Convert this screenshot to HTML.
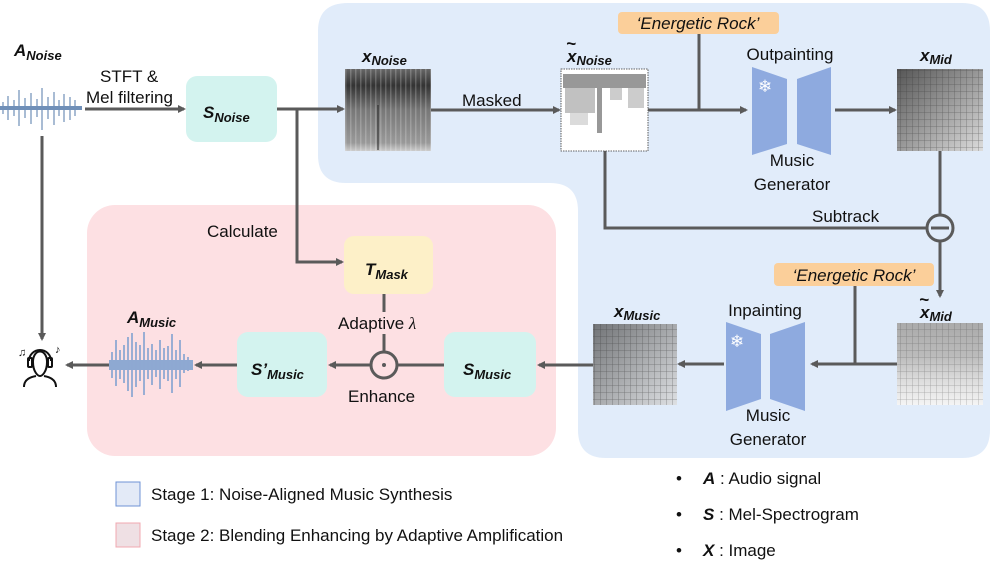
<!DOCTYPE html>
<html><head><meta charset="utf-8">
<style>
html,body{margin:0;padding:0;background:#fff;}
svg{display:block;font-family:"Liberation Sans",sans-serif;}
.t{font-size:17px;fill:#111;}
.b{font-weight:bold;font-style:italic;}
.ln{stroke:#5a5a5a;stroke-width:3;fill:none;}
</style></head><body>
<svg width="996" height="565" viewBox="0 0 996 565" xmlns="http://www.w3.org/2000/svg">
<defs>
<marker id="ar" markerWidth="8" markerHeight="8" refX="6" refY="4" orient="auto" markerUnits="userSpaceOnUse">
<path d="M0,0 L8,4 L0,8 z" fill="#5a5a5a"/></marker>
<linearGradient id="gN" x1="0" y1="0" x2="0" y2="1">
<stop offset="0" stop-color="#666"/><stop offset="0.2" stop-color="#333"/><stop offset="0.5" stop-color="#777"/><stop offset="0.9" stop-color="#999"/><stop offset="1" stop-color="#ccc"/></linearGradient>
<linearGradient id="gM" x1="0" y1="0" x2="1" y2="1">
<stop offset="0" stop-color="#555"/><stop offset="0.5" stop-color="#999"/><stop offset="1" stop-color="#ddd"/></linearGradient>
<linearGradient id="gT" x1="0" y1="0" x2="0" y2="1">
<stop offset="0" stop-color="#fff"/><stop offset="0.08" stop-color="#555"/><stop offset="0.25" stop-color="#888"/><stop offset="0.5" stop-color="#eee"/><stop offset="1" stop-color="#fff"/></linearGradient>
<linearGradient id="gTM" x1="0" y1="0" x2="0" y2="1">
<stop offset="0" stop-color="#aaa"/><stop offset="0.4" stop-color="#bbb"/><stop offset="0.7" stop-color="#ddd"/><stop offset="1" stop-color="#f4f4f4"/></linearGradient>
<pattern id="grid" width="6" height="7" patternUnits="userSpaceOnUse"><path d="M0 0V7M0 0H6" stroke="#333" stroke-width="0.8" opacity="0.55"/></pattern>
<pattern id="vl" width="5" height="80" patternUnits="userSpaceOnUse"><rect width="1.5" height="80" fill="#fff" opacity="0.2"/></pattern>
</defs>

<!-- Stage 1 blue L region -->
<path d="M348,3 H962 Q990,3 990,31 V430 Q990,458 962,458 H606 Q578,458 578,430 V211 Q578,183 550,183 H346 Q318,183 318,155 V31 Q318,3 348,3 Z" fill="#e1ecfa"/>
<!-- Stage 2 pink -->
<rect x="87" y="205" width="469" height="251" rx="28" fill="#fde0e3"/>

<!-- A_Noise -->
<text x="14" y="56" class="t b" font-size="21">A<tspan font-size="13" dy="4">Noise</tspan></text>
<g stroke="#6f8fb8" stroke-width="1.2">
<line x1="0" y1="108" x2="82" y2="108" stroke-width="4"/>
<line x1="8" y1="96" x2="8" y2="120"/><line x1="14" y1="100" x2="14" y2="116"/><line x1="19" y1="90" x2="19" y2="126"/>
<line x1="25" y1="98" x2="25" y2="118"/><line x1="31" y1="93" x2="31" y2="124"/><line x1="37" y1="99" x2="37" y2="117"/>
<line x1="42" y1="88" x2="42" y2="130"/><line x1="48" y1="97" x2="48" y2="119"/><line x1="54" y1="92" x2="54" y2="125"/>
<line x1="59" y1="100" x2="59" y2="116"/><line x1="64" y1="94" x2="64" y2="122"/><line x1="70" y1="97" x2="70" y2="120"/><line x1="75" y1="100" x2="75" y2="116"/>
<line x1="3" y1="102" x2="3" y2="114"/>
</g>
<text x="100" y="82" class="t" font-size="16">STFT &amp;</text>
<text x="86" y="103" class="t" font-size="16">Mel filtering</text>
<line x1="85" y1="109" x2="184" y2="109" class="ln" marker-end="url(#ar)"/>

<!-- S_Noise -->
<rect x="186" y="76" width="91" height="66" rx="11" fill="#d3f3ef"/>
<text x="203" y="118" class="t b" font-size="22">S<tspan font-size="13" dy="4">Noise</tspan></text>

<line x1="277" y1="109" x2="343" y2="109" class="ln" marker-end="url(#ar)"/>
<path d="M297,109 V262 H342" class="ln" marker-end="url(#ar)"/>
<line x1="42" y1="136" x2="42" y2="339" class="ln" marker-end="url(#ar)"/>
<text x="207" y="237" class="t">Calculate</text>

<!-- x_Noise -->
<text x="362" y="62" class="t b" font-size="20">x<tspan font-size="13" dy="3">Noise</tspan></text>
<rect x="345" y="69" width="86" height="82" fill="url(#gN)"/>
<rect x="345" y="69" width="86" height="82" fill="url(#vl)"/>
<line x1="378" y1="105" x2="378" y2="150" stroke="#222" stroke-width="1"/>
<line x1="431" y1="110" x2="559" y2="110" class="ln" marker-end="url(#ar)"/>
<text x="462" y="106" class="t">Masked</text>

<!-- x~_Noise -->
<text x="567" y="62" class="t b" font-size="20">x<tspan font-size="13" dy="3">Noise</tspan></text>
<text x="566" y="49" class="t b" font-size="16">~</text>
<rect x="561" y="69" width="87" height="82" fill="#fff" stroke="#333" stroke-width="0.8" stroke-dasharray="1.5 1"/>
<g fill="#444" opacity="0.55"><rect x="563" y="74" width="83" height="14"/><rect x="565" y="88" width="30" height="25" opacity="0.6"/><rect x="597" y="88" width="5" height="45"/><rect x="610" y="88" width="12" height="12" opacity="0.5"/><rect x="628" y="88" width="16" height="20" opacity="0.5"/><rect x="570" y="113" width="18" height="12" opacity="0.35"/></g>
<path d="M605,151 V228 H927" class="ln"/>
<line x1="648" y1="110" x2="746" y2="110" class="ln" marker-end="url(#ar)"/>
<line x1="699" y1="33" x2="699" y2="110" class="ln"/>
<rect x="618" y="12" width="161" height="22" rx="4" fill="#fbcf9a"/>
<text x="698" y="29" class="t" font-style="italic" text-anchor="middle">‘Energetic Rock’</text>

<!-- Outpainting generator -->
<text x="790" y="60" class="t" text-anchor="middle">Outpainting</text>
<polygon points="752,67 787,79 787,144 752,155" fill="#8eaadf"/>
<polygon points="797,79 831,67 831,155 797,144" fill="#8eaadf"/>
<text x="765" y="92" font-size="17" fill="#fff" text-anchor="middle">❄</text>
<text x="792" y="166" class="t" text-anchor="middle">Music</text>
<text x="792" y="190" class="t" text-anchor="middle">Generator</text>
<line x1="835" y1="110" x2="895" y2="110" class="ln" marker-end="url(#ar)"/>

<!-- x_Mid -->
<text x="920" y="61" class="t b" font-size="20">x<tspan font-size="13" dy="3">Mid</tspan></text>
<rect x="897" y="69" width="86" height="82" fill="url(#gM)"/>
<rect x="897" y="69" width="86" height="82" fill="url(#grid)"/>
<line x1="940" y1="151" x2="940" y2="215" class="ln"/>
<circle cx="940" cy="228" r="13" fill="#e1ecfa" stroke="#5a5a5a" stroke-width="3"/>
<line x1="931" y1="228" x2="949" y2="228" stroke="#5a5a5a" stroke-width="3"/>
<text x="812" y="222" class="t">Subtrack</text>
<line x1="940" y1="241" x2="940" y2="296" class="ln" marker-end="url(#ar)"/>

<!-- x~_Mid -->
<text x="920" y="318" class="t b" font-size="20">x<tspan font-size="13" dy="3">Mid</tspan></text>
<text x="919" y="305" class="t b" font-size="16">~</text>
<rect x="897" y="323" width="86" height="82" fill="url(#gTM)"/>
<rect x="897" y="323" width="86" height="82" fill="url(#grid)" opacity="0.7"/>
<rect x="774" y="263" width="160" height="23" rx="4" fill="#fbcf9a"/>
<text x="854" y="281" class="t" font-style="italic" text-anchor="middle">‘Energetic Rock’</text>
<line x1="855" y1="286" x2="855" y2="364" class="ln"/>
<line x1="897" y1="364" x2="812" y2="364" class="ln" marker-end="url(#ar)"/>

<!-- Inpainting generator -->
<text x="765" y="316" class="t" text-anchor="middle">Inpainting</text>
<polygon points="726,322 761,334 761,399 726,411" fill="#8eaadf"/>
<polygon points="770,334 805,322 805,411 770,399" fill="#8eaadf"/>
<text x="737" y="347" font-size="17" fill="#fff" text-anchor="middle">❄</text>
<text x="768" y="421" class="t" text-anchor="middle">Music</text>
<text x="768" y="445" class="t" text-anchor="middle">Generator</text>
<line x1="724" y1="364" x2="679" y2="364" class="ln" marker-end="url(#ar)"/>

<!-- x_Music -->
<text x="614" y="317" class="t b" font-size="20">x<tspan font-size="13" dy="3">Music</tspan></text>
<rect x="593" y="324" width="84" height="81" fill="url(#gM)" opacity="0.8"/>
<rect x="593" y="324" width="84" height="81" fill="url(#grid)"/>
<line x1="593" y1="365" x2="539" y2="365" class="ln" marker-end="url(#ar)"/>

<!-- S_Music -->
<rect x="444" y="332" width="92" height="65" rx="11" fill="#d3f3ef"/>
<text x="463" y="375" class="t b" font-size="22">S<tspan font-size="13" dy="4">Music</tspan></text>
<line x1="444" y1="365" x2="330" y2="365" class="ln" marker-end="url(#ar)"/>
<circle cx="384" cy="365" r="13" fill="#fde0e3" stroke="#5a5a5a" stroke-width="3"/>
<circle cx="384" cy="365" r="2" fill="#5a5a5a"/>
<line x1="384" y1="294" x2="384" y2="312" class="ln"/>
<line x1="384" y1="334" x2="384" y2="352" class="ln"/>
<text x="338" y="329" class="t">Adaptive <tspan font-family="Liberation Serif" font-style="italic">λ</tspan></text>
<text x="348" y="402" class="t">Enhance</text>

<!-- T_Mask -->
<rect x="344" y="236" width="89" height="58" rx="10" fill="#fdf0c8"/>
<text x="365" y="275" class="t b" font-size="22">T<tspan font-size="13" dy="4">Mask</tspan></text>

<!-- S'_Music -->
<rect x="237" y="332" width="90" height="65" rx="11" fill="#d3f3ef"/>
<text x="251" y="375" class="t b" font-size="22">S’<tspan font-size="13" dy="4">Music</tspan></text>
<line x1="237" y1="365" x2="196" y2="365" class="ln" marker-end="url(#ar)"/>

<!-- A_Music -->
<text x="127" y="323" class="t b" font-size="21">A<tspan font-size="13" dy="4">Music</tspan></text>
<g stroke="#8ea9d2" stroke-width="1.8">
<line x1="109" y1="365" x2="193" y2="365" stroke-width="10"/>
<line x1="112" y1="352" x2="112" y2="378"/><line x1="116" y1="340" x2="116" y2="386"/><line x1="120" y1="350" x2="120" y2="379"/>
<line x1="124" y1="345" x2="124" y2="383"/><line x1="128" y1="337" x2="128" y2="391"/><line x1="132" y1="333" x2="132" y2="397"/>
<line x1="136" y1="342" x2="136" y2="387"/><line x1="140" y1="345" x2="140" y2="381"/><line x1="144" y1="332" x2="144" y2="395"/>
<line x1="148" y1="348" x2="148" y2="379"/><line x1="152" y1="344" x2="152" y2="385"/><line x1="156" y1="350" x2="156" y2="377"/>
<line x1="160" y1="340" x2="160" y2="389"/><line x1="164" y1="348" x2="164" y2="379"/><line x1="168" y1="346" x2="168" y2="381"/>
<line x1="172" y1="334" x2="172" y2="393"/><line x1="176" y1="350" x2="176" y2="379"/><line x1="180" y1="340" x2="180" y2="387"/><line x1="184" y1="354" x2="184" y2="373"/><line x1="188" y1="357" x2="188" y2="371"/>
</g>
<line x1="109" y1="365" x2="67" y2="365" class="ln" marker-end="url(#ar)"/>

<!-- headphone listener -->
<g stroke="#111" stroke-width="2" fill="none">
<path d="M29,361 A11,11 0 0 1 51,361"/>
<rect x="28" y="358" width="4" height="9" rx="1"/><rect x="48" y="358" width="4" height="9" rx="1"/>
<path d="M33,362 C33,348 47,348 47,362 C47,372 42,376 40,376 C38,376 33,372 33,362"/>
<path d="M24,387 C24,379 31,377 36,376 M56,387 C56,379 49,377 44,376"/>
</g>
<text x="18" y="356" font-size="11" fill="#111">♫</text><text x="55" y="353" font-size="11" fill="#111">♪</text>

<!-- Legend -->
<rect x="116" y="482" width="24" height="24" fill="#e3eaf7" stroke="#6f93d6" stroke-width="1"/>
<text x="151" y="500" class="t">Stage 1: Noise-Aligned Music Synthesis</text>
<rect x="116" y="523" width="24" height="24" fill="#efe0e4" stroke="#f0a8b0" stroke-width="1"/>
<text x="151" y="541" class="t">Stage 2: Blending Enhancing by Adaptive Amplification</text>

<text x="676" y="484" class="t">•</text><text x="703" y="484" class="t"><tspan class="b">A</tspan> : Audio signal</text>
<text x="676" y="520" class="t">•</text><text x="703" y="520" class="t"><tspan class="b">S</tspan> : Mel-Spectrogram</text>
<text x="676" y="556" class="t">•</text><text x="703" y="556" class="t"><tspan class="b">X</tspan> : Image</text>
</svg>
</body></html>
